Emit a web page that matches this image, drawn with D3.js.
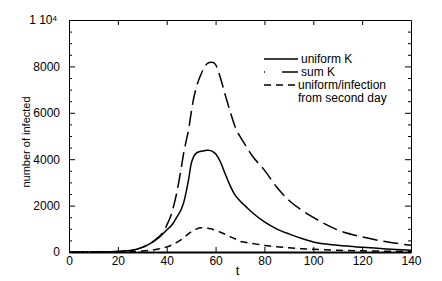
<!DOCTYPE html>
<html>
<head>
<meta charset="utf-8">
<script src="https://cdn.jsdelivr.net/npm/d3@7"></script>
<style>
    body { margin: 0; background: #fff; }
    svg { display: block; font-family: "Liberation Sans", Arial, sans-serif; }
    .axis path, .axis line { stroke: #000; }
    .axis text { font-size: 12px; fill: #000; }
</style>
</head>
<body>
<div id="chart-area"></div>
<script>
// days
const days = [0, 10, 20, 25, 30, 33, 35, 37, 39, 40, 42, 43, 44, 46, 47, 48, 49, 50, 51, 52, 54, 56, 57, 58, 59, 60, 62, 64, 66, 68, 70, 72, 75, 80, 85, 90, 95, 100, 110, 120, 130, 140];

// number of infected per series
const uniformK = [0, 5, 20, 60, 200, 350, 480, 640, 840, 950, 1150, 1300, 1480, 1850, 2150, 2600, 3150, 3800, 4100, 4250, 4340, 4380, 4390, 4370, 4320, 4230, 3880, 3350, 2850, 2450, 2200, 2000, 1700, 1300, 1000, 780, 590, 430, 290, 200, 130, 80];
const sumK = [0, 5, 20, 60, 200, 350, 500, 680, 920, 1150, 1660, 2050, 2500, 3650, 4300, 4800, 5300, 6000, 6600, 7050, 7650, 8050, 8150, 8180, 8170, 8080, 7500, 6750, 6050, 5400, 4980, 4640, 4150, 3530, 2800, 2230, 1820, 1490, 950, 650, 440, 290];
const secondDay = [0, 2, 5, 15, 40, 70, 100, 140, 190, 220, 300, 350, 410, 530, 600, 700, 790, 870, 930, 980, 1040, 1040, 1020, 1000, 970, 930, 850, 760, 660, 570, 460, 420, 370, 285, 230, 180, 145, 115, 75, 50, 35, 22];

const xTicks = [0, 20, 40, 60, 80, 100, 120, 140];
const yTicks = [0, 2000, 4000, 6000, 8000, 10000];
const legendLabels = ['uniform K', 'sum K', 'uniform/infection', 'from second day'];

const WIDTH = 442;
const HEIGHT = 281;
const MARGIN = {top: 20, right: 31, bottom: 29, left: 69};
const innerW = WIDTH - MARGIN.left - MARGIN.right;
const innerH = HEIGHT - MARGIN.top - MARGIN.bottom;

const svg = d3.select('#chart-area').append('svg')
    .attr('width', WIDTH)
    .attr('height', HEIGHT);

const graph = svg.append('g')
    .attr('transform', `translate(${MARGIN.left}, ${MARGIN.top})`);

const xScale = d3.scaleLinear().domain([0, 140]).range([0, innerW]);
const yScale = d3.scaleLinear().domain([0, 10000]).range([innerH, 0]);

// minor y ticks every 500
const yMinor = d3.range(0, 10001, 500).filter(v => v % 2000 !== 0);

// left axis
const yAxisGroup = graph.append('g').attr('class', 'axis')
    .call(d3.axisLeft(yScale).tickValues(yTicks).tickSizeInner(-6).tickSizeOuter(0).tickPadding(9)
        .tickFormat(d => d === 10000 ? '' : d));
yAxisGroup.selectAll('.tick')
    .filter(d => d === 10000)
    .select('text')
    .call(t => {
        t.append('tspan').text('1 10');
        t.append('tspan').attr('dy', '-0.45em').attr('font-size', '8px').text('4');
    })
    .attr('dx', '-3px');
graph.append('g').attr('class', 'axis')
    .call(d3.axisLeft(yScale).tickValues(yMinor).tickSize(-3).tickFormat(''))
    .select('.domain').remove();

// right axis
graph.append('g').attr('class', 'axis')
    .attr('transform', `translate(${innerW}, 0)`)
    .call(d3.axisRight(yScale).tickValues(yTicks).tickSizeInner(-6).tickSizeOuter(0).tickFormat(''));
graph.append('g').attr('class', 'axis')
    .attr('transform', `translate(${innerW}, 0)`)
    .call(d3.axisRight(yScale).tickValues(yMinor).tickSize(-3).tickFormat(''))
    .select('.domain').remove();

// bottom axis
const xAxisGroup = graph.append('g').attr('class', 'axis')
    .attr('transform', `translate(0, ${innerH})`)
    .call(d3.axisBottom(xScale).tickValues(xTicks).tickSizeInner(-5).tickSizeOuter(0).tickPadding(4));
xAxisGroup.select('.domain').attr('stroke-width', 1.8).attr('stroke', '#333');
xAxisGroup.selectAll('.tick line').filter(d => d === 0 || d === 140).remove();

// top axis
const xTop = graph.append('g').attr('class', 'axis')
    .call(d3.axisTop(xScale).tickValues(xTicks).tickSizeInner(-5).tickSizeOuter(0).tickFormat(''));
xTop.selectAll('.tick line').filter(d => d === 0 || d === 140).remove();

// labels
svg.append('text')
    .attr('x', MARGIN.left + xScale(69))
    .attr('y', HEIGHT - 6)
    .attr('text-anchor', 'middle')
    .attr('font-size', '13px')
    .text('t');

svg.append('text')
    .attr('transform', `translate(30, ${MARGIN.top + innerH / 2 + 6}) rotate(-90)`)
    .attr('text-anchor', 'middle')
    .attr('font-size', '11px')
    .text('number of infected');

// curves
const line = d3.line()
    .x((d, i) => xScale(days[i]))
    .y(d => yScale(d))
    .curve(d3.curveMonotoneX);

function drawSeries(values, dash, faint) {
    if (faint) {
        graph.append('path')
            .datum(values)
            .attr('fill', 'none')
            .attr('stroke', '#c8c8c8')
            .attr('stroke-width', 1)
            .attr('stroke-dasharray', '1,3')
            .attr('d', line);
    }
    graph.append('path')
        .datum(values)
        .attr('fill', 'none')
        .attr('stroke', '#000')
        .attr('stroke-width', 1.5)
        .attr('stroke-dasharray', dash)
        .attr('d', line);
}

drawSeries(secondDay, '7,5', true);
drawSeries(sumK, '15,6', true);
drawSeries(uniformK, null, false);

// legend
const legend = svg.append('g').attr('class', 'legend');
const rows = [
    {y: 59, dash: null},
    {y: 72, dash: '1,17,16'},
    {y: 85, dash: '7,5'}
];
rows.forEach(r => {
    legend.append('line')
        .attr('x1', 264).attr('x2', 298)
        .attr('y1', r.y).attr('y2', r.y)
        .attr('stroke', '#000')
        .attr('stroke-width', 1.5)
        .attr('stroke-dasharray', r.dash);
});
legendLabels.forEach((l, i) => {
    legend.append('text')
        .attr('x', i === 0 || i === 1 ? 301 : 298)
        .attr('y', 59 + i * 13 + 4)
        .attr('font-size', '12px')
        .text(l);
});
</script>
</body>
</html>
